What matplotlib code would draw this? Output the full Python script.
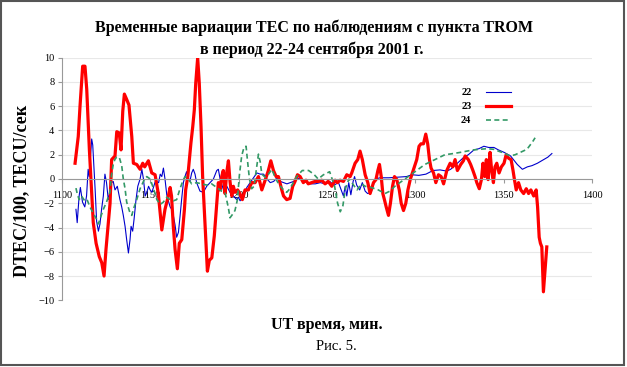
import numpy as np
import matplotlib
matplotlib.use("Agg")
import matplotlib.pyplot as plt
from matplotlib.patches import Rectangle

plt.rcParams['font.family'] = ['Liberation Serif', 'DejaVu Serif']

# series: (UT minutes, DTEC/100)
pts22 = [(1107.9, -2.5), (1108.6, -3.6), (1109.7, -1.4), (1110.4, -0.7), (1111.6, -1.9), (1112.9, -2.3),
         (1113.9, -1.4), (1114.8, 0.8), (1115.4, 0.2), (1116.8, 3.3), (1117.4, 2.8), (1118.1, 0.9),
         (1118.8, -1.0), (1119.6, -3.5), (1120.6, -4.3), (1121.5, -3.7), (1122.4, -2.5), (1123.4, -1.4),
         (1124.3, 0.4), (1125.2, -0.3), (1126.2, -1.7), (1127.1, -1.1), (1128.0, -0.3), (1129.0, -0.2),
         (1130.0, -0.9), (1131.3, -0.6), (1132.8, -1.7), (1133.8, -2.3), (1134.7, -3.0), (1135.7, -3.9),
         (1136.6, -5.0), (1137.6, -6.1), (1138.5, -5.0), (1139.1, -3.9), (1140.0, -4.3), (1140.8, -3.3),
         (1141.9, -1.7), (1142.9, -0.6), (1144.2, 0.0), (1145.2, 0.8), (1146.1, 0.0), (1147.1, -1.4),
         (1148.0, -1.1), (1149.0, -0.6), (1149.9, -0.9), (1150.9, -1.1), (1152.8, -0.2), (1154.7, -0.3),
         (1155.6, 0.4), (1156.5, 0.2), (1157.4, 0.9), (1158.3, 0.0), (1159.3, -1.3), (1160.2, -1.8),
         (1161.2, -2.3), (1162.1, -2.5), (1163.0, -3.0), (1164.0, -3.8), (1164.9, -4.8), (1165.9, -4.4),
         (1166.8, -3.1), (1167.7, -1.7), (1168.7, -0.3), (1169.6, 0.2), (1170.5, 0.6), (1171.5, 0.1),
         (1172.4, -0.2), (1173.4, 0.5), (1174.3, 0.8), (1175.3, 0.4), (1176.2, -0.3), (1178.1, -1.0),
         (1180.0, -1.1), (1181.9, -0.6), (1183.8, -0.3), (1185.7, 0.0), (1187.6, 0.7), (1188.5, 0.8),
         (1189.5, 0.0), (1191.4, -0.9), (1193.3, -0.6), (1195.1, -1.1), (1197.0, -1.4), (1198.9, -1.7),
         (1199.9, -1.5), (1200.8, -1.8), (1202.7, -1.4), (1204.6, -0.7), (1206.5, -0.3), (1208.4, 0.1),
         (1210.3, 0.5), (1212.2, 0.4), (1214.1, 0.4), (1216.0, 0.0), (1217.9, -0.3), (1219.8, -0.2),
         (1221.7, 0.1), (1223.6, -0.2), (1225.4, -0.3), (1227.3, -0.4), (1229.2, -0.3), (1231.1, -0.2),
         (1233.0, 0.1), (1234.9, 0.0), (1236.8, -0.2), (1238.7, -0.3), (1240.6, -0.4), (1243.4, -0.4),
         (1246.2, -0.3), (1249.0, -0.4), (1251.5, -0.2), (1254.0, -0.5), (1256.5, -0.3), (1258.0, -0.9),
         (1259.3, -1.4), (1260.3, -0.6), (1261.2, -1.4), (1262.3, -0.3), (1263.5, -1.3), (1264.8, -0.2),
         (1265.6, 0.2), (1266.8, -0.5), (1268.5, -0.9), (1270.0, -0.3), (1271.6, -1.0), (1273.0, -1.2),
         (1275.0, -1.1), (1277.3, 0.0), (1280.0, 0.1), (1285.0, 0.1), (1290.0, 0.15), (1295.0, 0.2),
         (1298.0, 0.35), (1302.0, 0.3), (1306.0, 0.4), (1310.0, 0.7), (1314.0, 0.75), (1317.8, 0.65),
         (1320.0, 0.8), (1323.8, 1.3), (1327.5, 1.8), (1330.0, 2.0), (1333.2, 2.4), (1336.0, 2.5),
         (1338.8, 2.7), (1341.5, 2.6), (1344.5, 2.6), (1347.0, 2.4), (1350.2, 2.2), (1353.9, 1.9),
         (1357.7, 1.2), (1360.6, 0.8), (1363.4, 1.0), (1366.0, 1.1), (1369.1, 1.3), (1372.6, 1.6),
         (1375.0, 1.8), (1377.3, 2.1)]

pts23 = [(1107.4, 1.3), (1109.2, 3.5), (1110.2, 6.0), (1111.7, 9.3), (1113.0, 9.3), (1114.0, 7.4),
         (1115.5, 2.4), (1117.7, -3.6), (1119.3, -5.3), (1121.1, -6.4), (1122.5, -6.9), (1123.8, -8.0),
         (1124.9, -5.8), (1126.2, -3.6), (1127.2, -2.0), (1128.1, 1.6), (1130.0, 1.9), (1131.0, 3.9),
         (1132.4, 3.8), (1133.4, 2.4), (1134.4, 5.6), (1135.3, 7.0), (1136.5, 6.6), (1137.9, 6.1),
         (1139.5, 3.5), (1140.4, 1.3), (1142.3, 1.2), (1144.2, 0.8), (1145.7, 1.3), (1146.8, 1.0),
         (1148.9, 1.5), (1150.8, 0.5), (1152.7, 0.35), (1154.5, -1.2), (1156.5, -4.2), (1158.3, -2.5),
         (1160.2, -1.4), (1161.2, -0.7), (1162.0, -1.4), (1163.0, -3.9), (1164.0, -5.8), (1165.3, -7.4),
         (1166.4, -5.3), (1167.8, -5.0), (1169.3, -2.5), (1170.0, -0.9), (1171.2, 0.2), (1172.1, 1.6),
         (1173.0, 3.0), (1174.0, 4.3), (1174.9, 5.7), (1175.7, 7.9), (1176.8, 10.0), (1177.7, 7.9),
         (1178.7, 4.3), (1179.6, 0.2), (1181.0, -3.9), (1182.3, -7.6), (1183.4, -6.7), (1184.8, -6.5),
         (1186.2, -4.7), (1187.6, -2.0), (1188.5, -0.3), (1189.4, -0.9), (1190.4, 0.2), (1191.3, 0.7),
         (1192.3, -1.2), (1193.2, 0.5), (1194.2, 1.5), (1195.1, -0.2), (1196.1, -1.4), (1197.0, -0.6),
         (1197.9, -1.1), (1199.4, -0.9), (1200.7, -1.2), (1202.1, -1.7), (1203.6, -0.9), (1205.5, -0.9),
         (1207.4, -0.3), (1209.3, -0.3), (1211.2, 0.2), (1213.1, -0.9), (1215.0, -0.1), (1216.8, 0.7),
         (1218.2, 1.5), (1219.7, 0.7), (1221.2, 0.2), (1222.5, 0.2), (1224.4, -0.9), (1225.4, -1.4),
         (1227.2, -1.7), (1229.1, -1.6), (1230.6, -0.6), (1231.9, -0.2), (1233.3, 0.35), (1234.8, 0.2),
         (1236.6, -0.3), (1238.1, -0.1), (1239.4, -0.4), (1241.3, -0.3), (1243.2, -0.2), (1245.1, -0.2),
         (1247.0, -0.1), (1248.9, -0.4), (1250.7, -0.2), (1252.7, -0.6), (1254.6, -0.1), (1255.9, -0.3),
         (1257.4, -0.1), (1259.3, -0.2), (1261.2, 0.35), (1263.1, 0.2), (1264.0, 0.5), (1265.9, 1.3),
         (1267.4, 1.6), (1268.7, 2.3), (1270.0, 1.6), (1271.6, 0.35), (1273.1, -0.3), (1274.4, -1.2),
         (1276.3, -0.3), (1277.7, -0.05), (1278.8, 0.7), (1279.7, 1.2), (1280.7, 0.2), (1281.6, -1.2),
         (1282.5, -1.7), (1283.5, -2.3), (1284.8, -3.0), (1285.9, -2.0), (1287.1, -0.6), (1288.2, 0.2),
         (1289.5, -0.05), (1290.9, -0.9), (1292.0, -2.0), (1293.3, -2.6), (1294.6, -2.0), (1295.8, -0.9),
         (1297.1, -0.05), (1298.0, 0.35), (1299.5, 1.0), (1300.8, 1.6), (1302.1, 2.7), (1303.2, 2.9),
         (1304.6, 2.9), (1305.9, 3.7), (1307.0, 2.9), (1308.0, 1.6), (1308.9, 0.9), (1310.3, 0.5),
         (1311.6, -0.3), (1313.1, 0.35), (1314.6, 0.2), (1316.0, -0.4), (1317.8, 0.7), (1319.7, 1.3),
         (1321.2, 1.0), (1322.5, 1.6), (1323.8, 0.7), (1325.7, 1.2), (1327.2, 1.5), (1328.2, 1.9),
         (1330.0, 1.6), (1331.3, 1.2), (1332.6, 0.7), (1333.8, 0.2), (1334.8, -0.3), (1336.2, -0.8),
         (1337.4, -0.05), (1338.3, 1.3), (1339.3, 0.2), (1340.2, 1.6), (1341.2, -0.05), (1342.3, 2.2),
         (1343.2, 0.7), (1344.2, -0.3), (1345.1, 1.0), (1346.1, 1.3), (1347.4, 0.5), (1348.7, 1.0),
         (1350.2, 1.3), (1351.4, 2.0), (1352.9, 1.7), (1354.2, 1.6), (1355.3, 0.7), (1356.1, -0.05),
         (1357.1, -0.9), (1358.4, -0.3), (1359.7, -0.9), (1361.3, -1.2), (1362.8, -0.8), (1364.1, -1.2),
         (1365.4, -0.9), (1367.0, -1.4), (1368.4, -0.9), (1369.2, -2.3), (1370.1, -4.8), (1370.8, -5.3),
         (1371.6, -5.6), (1372.5, -9.3), (1373.6, -7.2), (1374.4, -5.6)]

pts24 = [(1107.9, -0.75), (1108.6, -1.2), (1109.7, -1.7), (1111.0, -1.4), (1112.9, -1.8), (1114.2, -1.7),
         (1115.8, -2.3), (1117.6, -2.8), (1119.5, -3.3), (1120.6, -3.7), (1121.5, -3.3), (1123.4, -2.5),
         (1125.2, -1.9), (1127.1, -1.1), (1128.0, 0.3), (1129.0, 1.2), (1129.9, 1.6), (1130.9, 1.8),
         (1132.4, 1.8), (1133.8, 1.1), (1134.7, 0.0), (1135.7, -0.8), (1136.6, -1.9), (1138.5, -2.8),
         (1139.5, -3.0), (1140.4, -2.5), (1142.3, -1.7), (1144.2, -0.8), (1146.1, -0.2), (1148.0, 0.2),
         (1149.9, 0.0), (1151.8, -0.8), (1153.7, -1.7), (1155.6, -2.1), (1157.4, -1.9), (1159.3, -1.5),
         (1161.2, -1.7), (1163.0, -1.8), (1164.9, -1.7), (1166.8, -0.8), (1168.3, -0.2), (1169.6, 0.2),
         (1171.5, 0.0), (1173.4, -0.4), (1176.2, -0.3), (1179.0, -0.4), (1181.9, -0.5), (1184.7, -0.4),
         (1187.6, -0.7), (1190.4, -1.0), (1192.3, -1.1), (1194.2, -2.4), (1195.1, -3.2), (1196.6, -2.9),
         (1197.9, -2.6), (1199.3, -1.7), (1200.4, 0.3), (1201.7, 1.9), (1203.0, 2.6), (1204.2, 2.7),
         (1204.9, 1.65), (1206.1, 0.0), (1207.4, -0.8), (1208.7, -0.6), (1210.3, 1.1), (1211.2, 2.05),
         (1212.2, 1.4), (1213.1, 0.4), (1215.0, 0.15), (1216.9, 0.4), (1218.8, 0.8), (1220.7, 0.1),
         (1222.6, -0.4), (1225.4, -0.9), (1227.2, -1.1), (1229.0, -0.8), (1232.8, 0.2), (1236.0, 0.7),
         (1239.6, 0.7), (1242.5, 0.4), (1245.0, 0.0), (1248.0, 0.35), (1251.5, 0.6), (1254.3, -0.6),
         (1256.0, -2.0), (1257.5, -2.7), (1259.0, -2.2), (1260.4, -0.8), (1262.4, 0.0), (1264.0, -0.3),
         (1267.0, -0.9), (1269.5, -0.4), (1271.6, -0.6), (1275.0, -0.7), (1279.0, -0.9), (1282.8, -1.2),
         (1285.6, -1.0), (1288.4, -0.6), (1292.2, -0.2), (1296.0, 0.2), (1299.8, 0.6), (1305.4, 1.2),
         (1311.1, 1.6), (1316.7, 2.0), (1321.6, 2.1), (1325.7, 2.2), (1329.2, 2.3), (1333.0, 2.4),
         (1336.7, 2.45), (1340.5, 2.5), (1344.3, 2.45), (1347.0, 2.3), (1349.9, 2.15), (1353.7, 1.9),
         (1356.5, 2.0), (1359.5, 2.2), (1363.2, 2.45), (1365.0, 2.8), (1366.5, 3.1), (1367.8, 3.4)]

labels = ['22', '23', '24']
colors = ['#0000cc', '#ff0000', '#339966']
xticks = [1100, 1150, 1200, 1250, 1300, 1350, 1400]
yticks = [-10, -8, -6, -4, -2, 0, 2, 4, 6, 8, 10]

W, H = 627, 367
fig = plt.figure(figsize=(W / 100, H / 100), dpi=100)
ax = fig.add_axes([62 / W, 1 - 300.3 / H, 530 / W, (300.3 - 57.7) / H])

t22, v22 = np.array(pts22).T
t23, v23 = np.array(pts23).T
t24, v24 = np.array(pts24).T

ax.plot(t22, v22, color=colors[0], lw=0.8, label=labels[0])
ax.plot(t23, v23, color=colors[1], lw=2.3, label=labels[1], solid_joinstyle='round')
ax.plot(t24, v24, color=colors[2], lw=1.2, ls=(0, (3, 2)), label=labels[2])

ax.set_xlim(1100, 1400)
ax.set_ylim(-10, 10)
ax.set_xticks(xticks)
ax.set_yticks(yticks)
ax.yaxis.grid(True, color='#e8e8e8', lw=0.8)
ax.set_axisbelow(True)

# axis line through zero like in excel
ax.spines['top'].set_visible(False)
ax.spines['right'].set_visible(False)
ax.spines['bottom'].set_position(('data', 0))
for s in ('bottom', 'left'):
    ax.spines[s].set_color('#999999')
    ax.spines[s].set_linewidth(0.8)
ax.tick_params(axis='both', direction='out', length=3, width=0.8, color='#999999', labelsize=7.5)
ax.tick_params(axis='x', pad=6)
ax.tick_params(axis='y', pad=2.5)

ax.legend(loc='upper left', bbox_to_anchor=(461 / W, 1 - 88 / H), bbox_transform=fig.transFigure,
          frameon=False, markerfirst=False, handlelength=2.4, handletextpad=1.4, labelspacing=0.45,
          borderpad=0, borderaxespad=0, prop={'size': 7.5, 'weight': 'bold'})

fig.text(314 / W, 1 - 28 / H, 'Временные вариации ТЕС по наблюдениям с пункта TROM',
         ha='center', va='center', fontsize=11.5, fontweight='bold')
fig.text(312 / W, 1 - 50 / H, 'в период 22-24 сентября 2001 г.',
         ha='center', va='center', fontsize=11.5, fontweight='bold')
fig.text(22 / W, 1 - 191 / H, 'DTEC/100, TECU/сек', rotation=90,
         ha='center', va='center', fontsize=13, fontweight='bold')
fig.text(327 / W, 1 - 325 / H, 'UT время, мин.', ha='center', va='center', fontsize=11.5, fontweight='bold')
fig.text(336 / W, 1 - 347 / H, 'Рис. 5.', ha='center', va='center', fontsize=10.5)

# frame round the picture
fig.patches.append(Rectangle((1 / W, 1 - 365 / H), 623 / W, 364 / H, transform=fig.transFigure,
                             fill=False, ec='#555555', lw=1.5))

fig.savefig('out.png', dpi=100)
